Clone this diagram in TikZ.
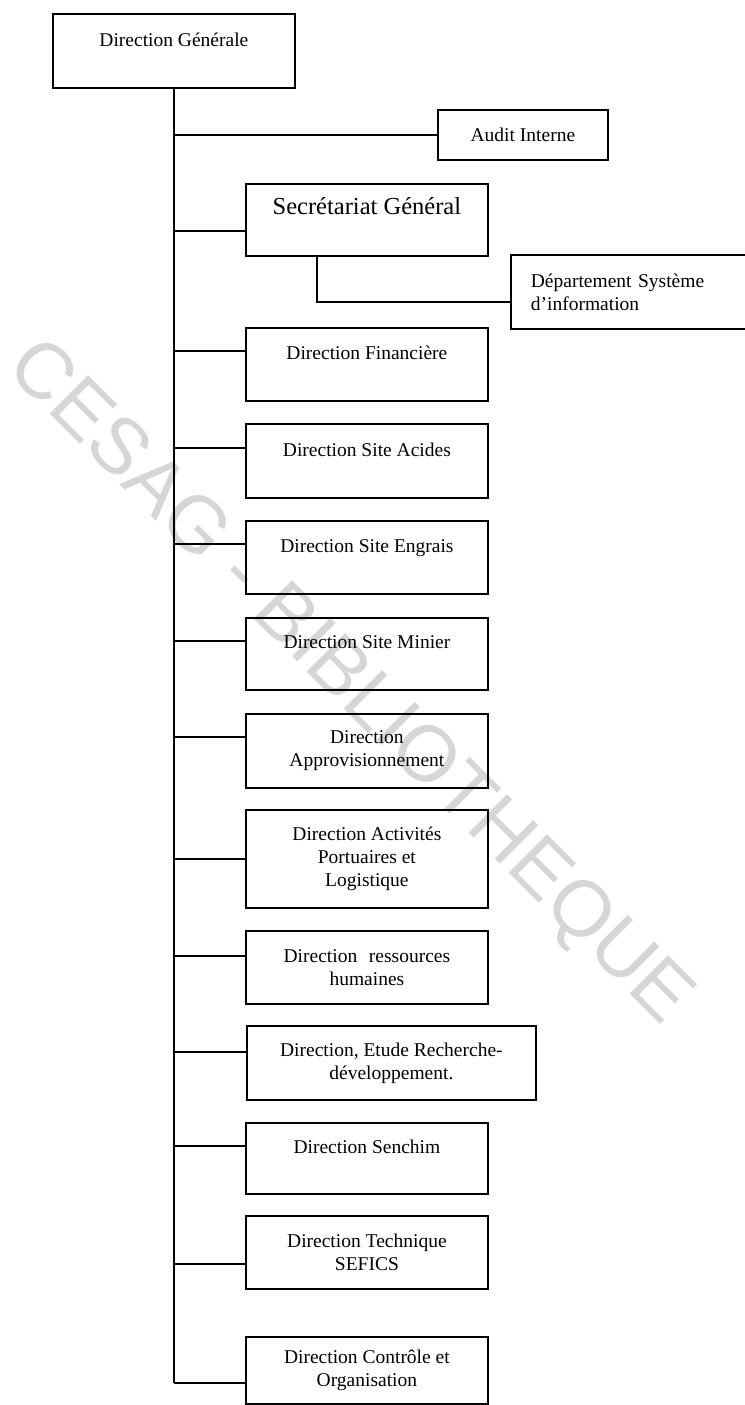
\documentclass[tikz,border=0pt]{standalone}
\usepackage{fontspec}
\setmainfont{Liberation Serif}
\newfontfamily\stampfont{Liberation Sans}
\begin{document}
\begin{tikzpicture}[x=1pt,y=-1pt,
  unit/.style={draw,line width=1.8pt,minimum width=242pt,minimum height=73pt,
    inner sep=0pt,align=center,anchor=north west,font=\fontsize{19.5}{23}\selectfont},
  link/.style={line width=2pt},
  stamp/.style={text=black!16,font=\stampfont\fontsize{79}{79}\selectfont,rotate=-45}]

\useasboundingbox (0,0) rectangle (744,1405);
\node[stamp] (wm) at (348,684) {CESAG - BIBLIOTHEQUE};

\node[unit,minimum height=74pt] (dg) at (52,13) {Direction Générale\\\mbox{}};
\node[unit,minimum width=170pt,minimum height=50pt] (audit) at (437,109) {Audit Interne};
\node[unit,minimum height=72pt,font=\fontsize{24.5}{28}\selectfont] (sg) at (245,183) {Secrétariat Général\\\mbox{}};
\node[unit,minimum width=240pt,minimum height=74pt,text width=200pt,inner xsep=20pt,align=left] (dsi) at (510,254) {Département Système\\d’information};
\node[unit] (fin) at (245,327) {Direction Financière\\\mbox{}};
\node[unit,minimum height=74pt] (acides) at (245,423) {Direction Site Acides\\\mbox{}};
\node[unit] (engrais) at (245,520) {Direction Site Engrais\\\mbox{}};
\node[unit,minimum height=72pt] (minier) at (245,617) {Direction Site Minier\\\mbox{}};
\node[unit,minimum height=74pt] (appro) at (245,713) {Direction\\Approvisionnement};
\node[unit,minimum height=98pt] (activ) at (245,809) {Direction Activités\\Portuaires et\\Logistique};
\node[unit] (rh) at (245,930) {Direction\hspace{0.6em}ressources\\humaines};
\node[unit,minimum width=289pt,minimum height=74pt] (etude) at (246,1025) {Direction, Etude Recherche-\\développement.};
\node[unit,minimum height=71pt] (senchim) at (245,1122) {Direction Senchim\\\mbox{}};
\node[unit] (sefics) at (245,1215) {Direction Technique\\SEFICS};
\node[unit,minimum height=67pt] (ctrl) at (245,1336) {Direction Contrôle et\\Organisation};

\coordinate (audit-in) at (audit.west);
\coordinate (sg-in) at ([yshift=-48pt]sg.north west);
\coordinate (sg-out) at ([xshift=72pt]sg.south west);
\coordinate (dsi-in) at ([yshift=-48pt]dsi.north west);
\coordinate (fin-in) at ([yshift=-24pt]fin.north west);
\coordinate (acides-in) at ([yshift=-25pt]acides.north west);
\coordinate (engrais-in) at ([yshift=-24pt]engrais.north west);
\coordinate (minier-in) at ([yshift=-24pt]minier.north west);
\coordinate (appro-in) at ([yshift=-24pt]appro.north west);
\coordinate (activ-in) at ([yshift=-50pt]activ.north west);
\coordinate (rh-in) at ([yshift=-26pt]rh.north west);
\coordinate (etude-in) at ([yshift=-27pt]etude.north west);
\coordinate (senchim-in) at ([yshift=-24pt]senchim.north west);
\coordinate (sefics-in) at ([yshift=-49pt]sefics.north west);
\coordinate (ctrl-in) at ([yshift=-47pt]ctrl.north west);

\draw[link] (dg.south) -- (dg.south |- ctrl-in);
\draw[link] (dg.south |- audit-in) -- (audit-in);
\draw[link] (dg.south |- sg-in) -- (sg-in);
\draw[link] (sg-out) |- (dsi-in);
\draw[link] (dg.south |- fin-in) -- (fin-in);
\draw[link] (dg.south |- acides-in) -- (acides-in);
\draw[link] (dg.south |- engrais-in) -- (engrais-in);
\draw[link] (dg.south |- minier-in) -- (minier-in);
\draw[link] (dg.south |- appro-in) -- (appro-in);
\draw[link] (dg.south |- activ-in) -- (activ-in);
\draw[link] (dg.south |- rh-in) -- (rh-in);
\draw[link] (dg.south |- etude-in) -- (etude-in);
\draw[link] (dg.south |- senchim-in) -- (senchim-in);
\draw[link] (dg.south |- sefics-in) -- (sefics-in);
\draw[link] (dg.south |- ctrl-in) -- (ctrl-in);

\end{tikzpicture}
\end{document}
